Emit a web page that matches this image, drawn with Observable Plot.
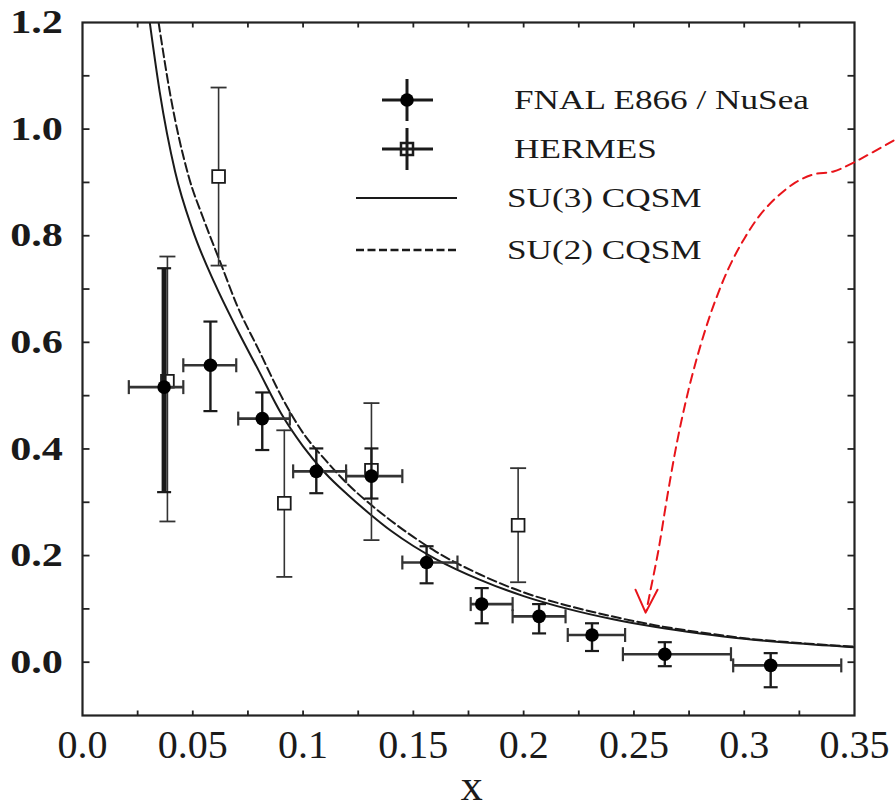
<!DOCTYPE html>
<html><head><meta charset="utf-8">
<script src="https://cdn.jsdelivr.net/npm/d3@7"></script>
<script src="https://cdn.jsdelivr.net/npm/@observablehq/plot@0.6"></script>
<style>body{margin:0;background:#fff}#chart svg{display:block}</style>
</head><body><div id="chart"></div>
<script>
// ---- E866 / NuSea data ----
const e866X   = [0.037, 0.058, 0.0815, 0.106, 0.131, 0.156, 0.181, 0.207, 0.231, 0.264, 0.312];
const e866Y   = [0.516, 0.557, 0.457, 0.358, 0.349, 0.187, 0.109, 0.086, 0.051, 0.015, -0.006];
const e866XLo = [0.021, 0.0457, 0.0706, 0.0955, 0.1195, 0.145, 0.176, 0.195, 0.220, 0.245, 0.295];
const e866XHi = [0.0457, 0.0697, 0.094, 0.1195, 0.145, 0.170, 0.195, 0.219, 0.246, 0.294, 0.344];
const e866YLo = [0.319, 0.471, 0.398, 0.317, 0.307, 0.148, 0.073, 0.054, 0.021, -0.0075, -0.047];
const e866YHi = [0.739, 0.639, 0.506, 0.401, 0.401, 0.2175, 0.139, 0.109, 0.073, 0.0375, 0.017];
// ---- HERMES data ----
const hermesX   = [0.0385, 0.0617, 0.0915, 0.131, 0.1975];
const hermesY   = [0.527, 0.911, 0.298, 0.36, 0.257];
const hermesYLo = [0.264, 0.744, 0.16, 0.229, 0.15];
const hermesYHi = [0.761, 1.078, 0.435, 0.486, 0.364];
// ---- model curves ----
const su3X = [0.0305,0.035,0.042,0.05,0.06,0.07,0.08,0.09,0.10,0.11,0.12,0.13,0.14,0.15,0.16,0.18,0.20,0.22,0.24,0.26,0.28,0.30,0.325,0.35];
const su3Y = [1.20,1.07,0.92,0.81,0.71,0.625,0.546,0.467,0.405,0.355,0.315,0.279,0.246,0.218,0.194,0.155,0.124,0.100,0.081,0.066,0.054,0.044,0.035,0.028];
const su2X = [0.0345,0.04,0.048,0.055,0.0625,0.07,0.08,0.09,0.10,0.11,0.12,0.13,0.14,0.15,0.16,0.18,0.20,0.22,0.24,0.26,0.28,0.30,0.325,0.35];
const su2Y = [1.20,1.06,0.913,0.83,0.75,0.67,0.585,0.50,0.43,0.38,0.335,0.298,0.265,0.235,0.208,0.165,0.131,0.106,0.086,0.069,0.056,0.045,0.036,0.029];
// ---- red annotation arrow ----
const arrowX = [0.3677,0.3496,0.3405,0.3314,0.3233,0.3151,0.3074,0.3001,0.2929,0.2861,0.2802,0.2747,0.2697,0.2652,0.2611,0.2575,0.2557];
const arrowY = [0.9786,0.9373,0.9206,0.9150,0.9000,0.8737,0.8400,0.7950,0.7387,0.6693,0.5943,0.5099,0.4161,0.3129,0.2097,0.1347,0.0972];
const headX = [0.2507, 0.2553, 0.2607];
const headY = [0.136, 0.093, 0.136];
// ---- axes ----
const xTickValues = [0, 0.05, 0.1, 0.15, 0.2, 0.25, 0.3, 0.35];
const xTickLabels = ["0.0","0.05","0.1","0.15","0.2","0.25","0.3","0.35"];
const xMinor = [0.025,0.05,0.075,0.1,0.125,0.15,0.175,0.2,0.225,0.25,0.275,0.3,0.325];
const yTickValues = [0, 0.2, 0.4, 0.6, 0.8, 1.0, 1.2];
const yTickLabels = ["0.0","0.2","0.4","0.6","0.8","1.0","1.2"];
const yMinor = [0,0.1,0.2,0.3,0.4,0.5,0.6,0.7,0.8,0.9,1.0,1.1];
const xLabel = "x";
const legendLabels = ["FNAL E866 / NuSea", "HERMES", "SU(3) CQSM", "SU(2) CQSM"];

const e866 = e866X.map((x,i)=>({i, x, y:e866Y[i], xlo:e866XLo[i], xhi:e866XHi[i], ylo:e866YLo[i], yhi:e866YHi[i]}));
const hermes = hermesX.map((x,i)=>({x, y:hermesY[i], ylo:hermesYLo[i], yhi:hermesYHi[i]}));
const su3 = su3X.map((x,i)=>({x, y:su3Y[i]}));
const su2 = su2X.map((x,i)=>({x, y:su2Y[i]}));
const arrow = arrowX.map((x,i)=>({x, y:arrowY[i]}));
const head = headX.map((x,i)=>({x, y:headY[i]}));

function seg(x0,y0,x1,y1){return {draw(ctx,size){const r=Math.sqrt(size/Math.PI);ctx.moveTo(x0*r,y0*r);ctx.lineTo(x1*r,y1*r);}};}
const hCap = seg(-1,0,1,0), vCap = seg(0,-1,0,1);
const tickRight = seg(0,0,1,0), tickLeft = seg(0,0,-1,0), tickDown = seg(0,0,0,1), tickUp = seg(0,0,0,-1);
const ink = "#1a1a1a";

const plot = Plot.plot({
  width: 895, height: 808,
  marginLeft: 82, marginRight: 41, marginTop: 22, marginBottom: 93,
  x: {domain: [0, 0.35], axis: null},
  y: {domain: [-0.1, 1.2], axis: null},
  style: {background: "white", overflow: "visible"},
  marks: [
    Plot.line(su3, {x:"x", y:"y", stroke:ink, strokeWidth:2, curve:"monotone-x", clip:true}),
    Plot.line(su2, {x:"x", y:"y", stroke:ink, strokeWidth:2, strokeDasharray:"9,4", curve:"monotone-x", clip:true}),
    // HERMES error bars
    Plot.ruleX(hermes, {x:"x", y1:"ylo", y2:"yhi", stroke:"#333", strokeWidth:1.6}),
    Plot.dot(hermes, {x:"x", y:"ylo", symbol:hCap, r:8, stroke:"#333", strokeWidth:1.8, fill:"none"}),
    Plot.dot(hermes, {x:"x", y:"yhi", symbol:hCap, r:8, stroke:"#333", strokeWidth:1.8, fill:"none"}),
    Plot.dot(hermes, {x:"x", y:"y", symbol:"square", r:7.2, fill:"white", stroke:ink, strokeWidth:1.8}),
    // E866 error bars
    Plot.ruleY(e866, {y:"y", x1:"xlo", x2:"xhi", stroke:"#333", strokeWidth:2.6}),
    Plot.dot(e866, {x:"xlo", y:"y", symbol:vCap, r:7, stroke:"#333", strokeWidth:2.2, fill:"none"}),
    Plot.dot(e866, {x:"xhi", y:"y", symbol:vCap, r:7, stroke:"#333", strokeWidth:2.2, fill:"none"}),
    Plot.ruleX(e866, {x:"x", y1:"ylo", y2:"yhi", stroke:ink, strokeWidth:(d)=>d.i===0?5:2.4}),
    Plot.dot(e866, {x:"x", y:"ylo", symbol:hCap, r:7, stroke:ink, strokeWidth:2.2, fill:"none"}),
    Plot.dot(e866, {x:"x", y:"yhi", symbol:hCap, r:7, stroke:ink, strokeWidth:2.2, fill:"none"}),
    Plot.dot(e866, {x:"x", y:"y", r:6.8, fill:"black", stroke:"none"}),
    // frame and inward ticks
    Plot.frame({stroke:"#222", strokeWidth:2.2}),
    Plot.dot(yMinor, {x:()=>0, y:d=>d, symbol:tickRight, r:7, stroke:"#222", strokeWidth:1.8, fill:"none"}),
    Plot.dot(yMinor, {x:()=>0.35, y:d=>d, symbol:tickLeft, r:7, stroke:"#222", strokeWidth:1.8, fill:"none"}),
    Plot.dot(xMinor, {x:d=>d, y:()=>1.2, symbol:tickDown, r:5, stroke:"#222", strokeWidth:1.8, fill:"none"}),
    Plot.dot(xMinor, {x:d=>d, y:()=>-0.1, symbol:tickUp, r:5, stroke:"#222", strokeWidth:1.8, fill:"none"}),
    // x tick labels and title
    Plot.text(xTickValues, {x:d=>d, frameAnchor:"bottom", dy:30, text:(d,i)=>xTickLabels[i], fontFamily:"Liberation Serif", fontSize:40, fill:ink, textAnchor:"middle", lineAnchor:"middle"}),
    Plot.text([xLabel], {x:()=>0.1765, frameAnchor:"bottom", dy:70, text:d=>d, fontFamily:"Liberation Serif", fontSize:44, fill:ink, textAnchor:"middle", lineAnchor:"middle"}),
    // red annotation
    Plot.line(arrow, {x:"x", y:"y", stroke:"#e8141a", strokeWidth:2, strokeDasharray:"9,6", curve:"catmull-rom"}),
    Plot.line(head, {x:"x", y:"y", stroke:"#e8141a", strokeWidth:2})
  ]
});
document.getElementById("chart").appendChild(plot);

const sx = plot.scale("x"), sy = plot.scale("y");
const svg = d3.select(plot);
const SX = 1.28;
// y tick labels (wide serif)
const gy = svg.append("g").attr("font-family","Liberation Serif").attr("font-weight","bold").attr("font-size",33).attr("fill",ink).attr("text-anchor","end");
yTickValues.forEach((v,i)=>{
  gy.append("text").attr("transform",`translate(63,${sy.apply(v)}) scale(${SX},1)`).attr("text-anchor","end").attr("dy","0.34em").text(yTickLabels[i]);
});
// legend
const lg = svg.append("g");
const lt = lg.append("g").attr("font-family","Liberation Serif").attr("font-size",27.5).attr("fill",ink).attr("text-anchor","start");
const rows = [100, 149, 198, 250];
const textX = [514, 514, 507, 507];
legendLabels.forEach((s,i)=>{
  lt.append("text").attr("transform",`translate(${textX[i]},${rows[i]}) scale(${SX},1)`).attr("text-anchor","start").attr("dy","0.33em").text(s);
});
// E866 symbol
lg.append("line").attr("x1",382).attr("x2",433).attr("y1",rows[0]).attr("y2",rows[0]).attr("stroke",ink).attr("stroke-width",3);
lg.append("line").attr("x1",407).attr("x2",407).attr("y1",rows[0]-21).attr("y2",rows[0]+21).attr("stroke",ink).attr("stroke-width",3);
lg.append("circle").attr("cx",407).attr("cy",rows[0]).attr("r",6.8).attr("fill","black");
// HERMES symbol
lg.append("line").attr("x1",382).attr("x2",433).attr("y1",rows[1]).attr("y2",rows[1]).attr("stroke",ink).attr("stroke-width",3);
lg.append("line").attr("x1",407).attr("x2",407).attr("y1",rows[1]-21).attr("y2",rows[1]+21).attr("stroke",ink).attr("stroke-width",3);
lg.append("rect").attr("x",401).attr("y",rows[1]-6).attr("width",12).attr("height",12).attr("fill","none").attr("stroke",ink).attr("stroke-width",2.5);
// line symbols
lg.append("line").attr("x1",356).attr("x2",457).attr("y1",rows[2]).attr("y2",rows[2]).attr("stroke",ink).attr("stroke-width",2.2);
lg.append("line").attr("x1",356).attr("x2",457).attr("y1",rows[3]).attr("y2",rows[3]).attr("stroke",ink).attr("stroke-width",2.6).attr("stroke-dasharray","8,3.5");
</script>
</body></html>
